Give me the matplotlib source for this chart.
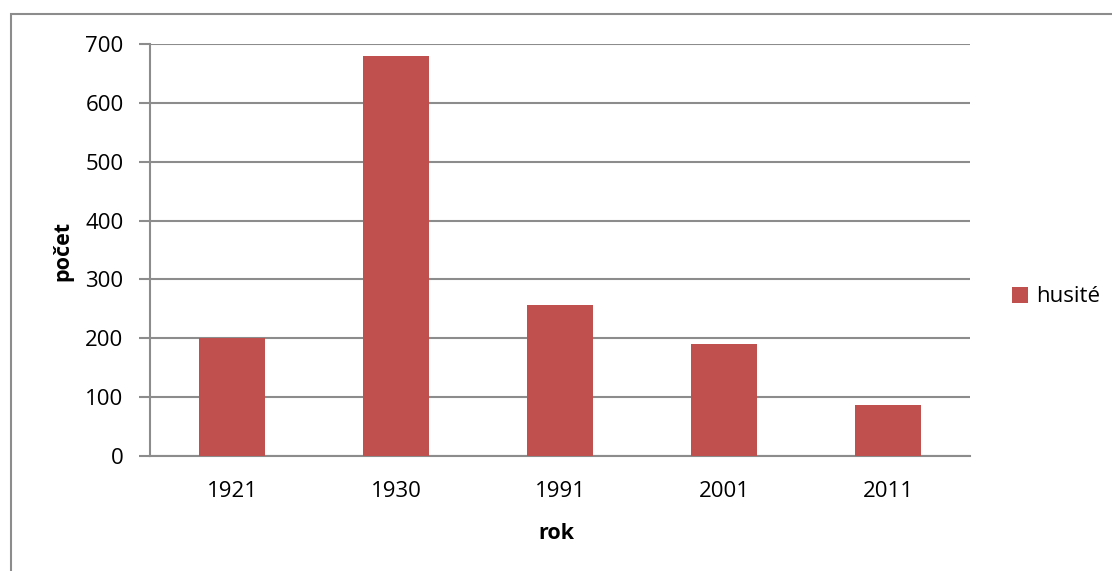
import matplotlib.pyplot as plt
from matplotlib.patches import Rectangle

years = ["1921", "1930", "1991", "2001", "2011"]
husite = [200, 680, 256, 190, 86]

W, H = 1112, 571
plt.rcParams['font.family'] = ['Open Sans', 'DejaVu Sans']

fig = plt.figure(figsize=(W / 100, H / 100), dpi=100)
# axes box in pixels: left 150, right 970, top 44, bottom 456
ax = fig.add_axes([150 / W, 1 - 456 / H, 820 / W, 412 / H])

grid_col = '#8c8c8c'
x = range(len(years))
ax.bar(x, husite, width=0.4, color='#C0504D', label='husité', zorder=3)

ax.set_xlim(-0.5, len(years) - 0.5)
ax.set_ylim(0, 700)
ax.set_yticks(range(0, 701, 100))
ax.set_xticks(list(x))
ax.set_xticklabels(years)
ax.yaxis.grid(True, color=grid_col, linewidth=1.5, zorder=0)

for s in ['top', 'right']:
    ax.spines[s].set_visible(False)
for s in ['left', 'bottom']:
    ax.spines[s].set_color(grid_col)
    ax.spines[s].set_linewidth(1.5)

ax.tick_params(axis='y', length=8, width=1.5, color=grid_col, labelsize=16, pad=11)
ax.tick_params(axis='x', length=0, labelsize=16, pad=18)

ax.set_xlabel('rok', fontsize=15.5, fontweight='bold', va='center')
ax.xaxis.set_label_coords(0.496, -0.187)
ax.set_ylabel('počet', fontsize=15.5, fontweight='bold', va='center')
ax.yaxis.set_label_coords(-0.106, 0.4976)

ax.legend(loc='center left', bbox_to_anchor=(1012 / W, 1 - 297 / H),
          bbox_transform=fig.transFigure, frameon=False, borderpad=0,
          borderaxespad=0, fontsize=16, handlelength=0.7, handleheight=0.7,
          handletextpad=0.4)

# outer chart border
fig.patches.append(Rectangle((11 / W, -0.1), 1.2, 1 - 14 / H + 0.1,
                             transform=fig.transFigure, fill=False,
                             edgecolor='#8c8c8c', linewidth=1.5))

plt.savefig('out.png', dpi=100)
